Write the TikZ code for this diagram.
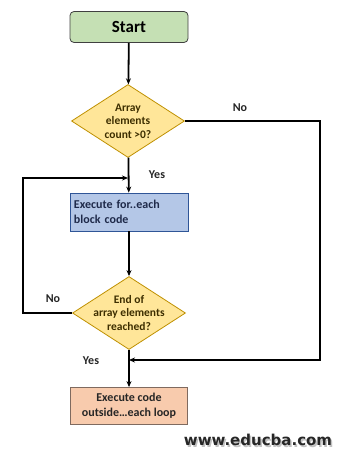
\documentclass[tikz,border=0pt]{standalone}
\usepackage{fontspec}
\setmainfont{Carlito}
\newfontfamily\webfont{DejaVu Sans}
\usetikzlibrary{shapes.geometric,arrows.meta,positioning}
\definecolor{startfill}{HTML}{C5E0B4}
\definecolor{decfill}{HTML}{FFE699}
\definecolor{decdraw}{HTML}{BF9000}
\definecolor{blfill}{HTML}{B4C7E7}
\definecolor{bldraw}{HTML}{2F5597}
\definecolor{orfill}{HTML}{F8CBAD}
\definecolor{ordraw}{HTML}{7F6A5F}
\definecolor{dectext}{HTML}{3D2E00}
\definecolor{bltext}{HTML}{1F2A4A}
\begin{document}
\begin{tikzpicture}[x=1pt,y=-1pt,
  boxbase/.style={draw, line width=0.8pt, minimum width=118pt, inner sep=2pt, font=\bfseries},
  startbox/.style={boxbase, fill=startfill, draw=black!75, rounded corners=4pt, minimum height=31pt, font=\bfseries\fontsize{17}{19}\selectfont},
  decbox/.style={shape=diamond, draw=decdraw, fill=decfill, line width=0.8pt, minimum width=113pt, minimum height=73pt, inner sep=0pt, aspect=1.55},
  dectxt/.style={align=center, font=\bfseries\fontsize{11.5}{13.5}\selectfont, text=dectext},
  execbox/.style={boxbase, fill=blfill, draw=bldraw, minimum height=38pt, text width=110pt, align=left, font=\bfseries\fontsize{12}{15}\selectfont, text=bltext},
  outbox/.style={boxbase, fill=orfill, draw=ordraw, minimum width=117pt, minimum height=37pt, align=center, font=\bfseries\fontsize{12}{15}\selectfont, text=black!85},
  arr/.style={line width=1.8pt, -{Stealth[length=6pt,width=5pt]}},
  lbl/.style={font=\bfseries\fontsize{12}{14}\selectfont, text=black!85}
]
\useasboundingbox (0,0) rectangle (347,456);
\node[startbox] (start) at (129,27) {Start};
\node[decbox] (d1) at (128,121) {};
\node[dectxt] (d1t) at (128,121) {Array\\elements\\count >0?};
\node[execbox] (exec) at (129,212) {Execute for..each\\block code};
\node[decbox] (d2) at (129,313) {};
\node[dectxt] (d2t) at (129,313) {End of\\array elements\\reached?};
\node[outbox] (out) at (129,406) {Execute code\\outside…each loop};
\coordinate (j1) at (128,178);
\coordinate (j2) at (129,360);
\draw[arr] (start) -- (d1);
\draw[arr] (d1) -- (exec);
\draw[arr] (exec) -- (d2);
\draw[arr] (d2) -- (out);
\draw[arr] (d1.east) -- (320,121) |- (j2);
\draw[arr] (d2.west) -- (23,313) |- (j1);
\node[lbl] (no1) at (240,108) {No};
\node[lbl] (yes1) at (157,175) {Yes};
\node[lbl] (no2) at (53,299) {No};
\node[lbl] (yes2) at (91,361) {Yes};
\node[font=\webfont\bfseries\fontsize{15}{17}\selectfont, text=black!40, opacity=0.6] (webs) at (259.5,441.5) {www.educba.com};
\node[font=\webfont\bfseries\fontsize{15}{17}\selectfont, text=black!85] (web) at (258,440) {www.educba.com};
\end{tikzpicture}
\end{document}
